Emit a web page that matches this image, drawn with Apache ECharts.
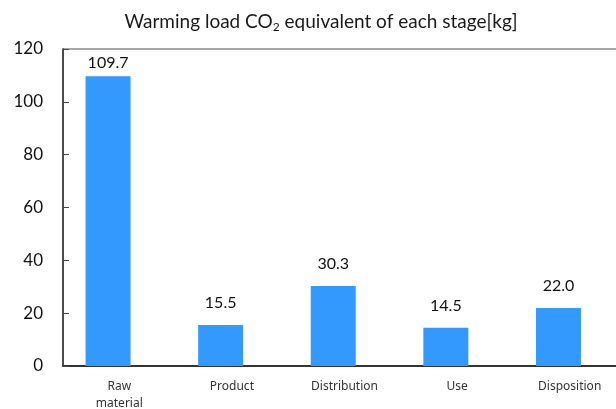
<!DOCTYPE html>
<html><head><meta charset="utf-8">
<script src="https://cdn.jsdelivr.net/npm/echarts@6/dist/echarts.min.js"></script>
<style>html,body{margin:0;padding:0;background:#fff}#c{width:616px;height:409px}</style>
</head><body><div id="c"></div>
<script>
const categories = ['Raw\nmaterial', 'Product', 'Distribution', 'Use', 'Disposition'];
const values = [109.7, 15.5, 30.3, 14.5, 22.0];
const yTicks = [0, 20, 40, 60, 80, 100, 120];

const chart = echarts.init(document.getElementById('c'), null, {renderer: 'canvas'});
const seriesData = values.map((v, i) => v === Math.max(...values) ? {value: v, label: {distance: 5}} : v);
chart.setOption({
  animation: false,
  title: {
    text: 'Warming load CO{sub|2} equivalent of each stage[kg]',
    left: 316, top: 6, textAlign: 'center',
    textStyle: {
      fontFamily: 'Lato', fontSize: 19, fontWeight: 'normal', color: '#1a1a1a',
      rich: { sub: {fontFamily: 'Lato', fontSize: 12, color: '#1a1a1a', padding: [10, 0, 0, 0]} }
    }
  },
  grid: {left: 63, width: 563, top: 49, bottom: 43, outerBoundsMode: 'none', containLabel: false, show: false},
  graphic: [{type: 'rect', right: 0, top: 51, z: 100, silent: true,
    shape: {width: 14, height: 313}, style: {fill: '#fff'}}],
  xAxis: {
    type: 'category', data: categories,
    axisLine: {lineStyle: {color: '#333', width: 2}},
    axisTick: {inside: true, length: 4, lineStyle: {color: '#333'}},
    splitLine: {show: false},
    axisLabel: {fontFamily: 'Noto Sans', fontSize: 12, color: '#333', margin: 12, lineHeight: 17}
  },
  yAxis: {
    type: 'value', min: yTicks[0], max: yTicks[yTicks.length - 1], interval: yTicks[1] - yTicks[0],
    axisLine: {show: true, lineStyle: {color: '#111', width: 1.5}},
    axisTick: {show: true, inside: true, length: 6, lineStyle: {color: '#444'}},
    splitLine: {show: true, lineStyle: {width: 1.5,
      color: yTicks.map((t, i) => i === yTicks.length - 1 ? '#8a8a8a' : 'rgba(0,0,0,0)')}},
    axisLabel: {fontFamily: 'Lato', fontSize: 17, color: '#111', margin: 20}
  },
  series: [
    {
      type: 'bar', data: seriesData, barWidth: 45, barGap: '-50%',
      itemStyle: {color: '#3399ff'},
      label: {show: true, position: 'top', distance: 14, fontFamily: 'Lato', fontSize: 16, color: '#111',
        formatter: p => Number(p.value).toFixed(1)}
    },
    { type: 'bar', data: values.map(() => null), barWidth: 45, silent: true }
  ]
});
</script></body></html>
